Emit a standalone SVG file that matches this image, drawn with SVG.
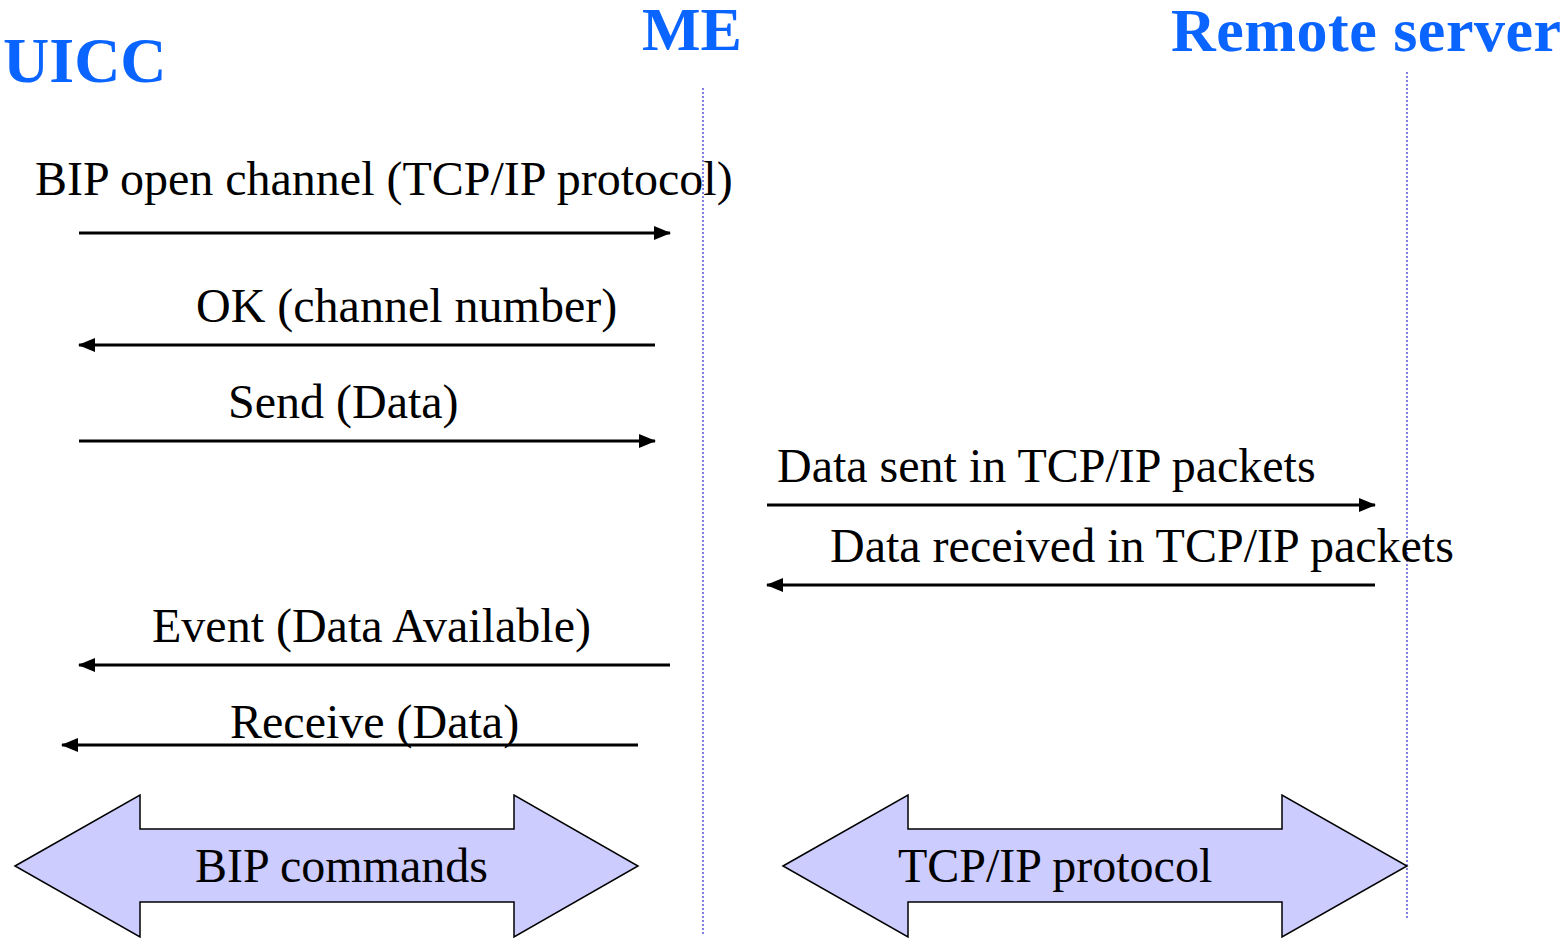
<svg xmlns="http://www.w3.org/2000/svg" width="1568" height="940" viewBox="0 0 1568 940">
<style>
.title{font-family:"Liberation Serif","Times New Roman",serif;font-weight:bold;font-size:64px;fill:#0A64FF}
.lbl{font-family:"Liberation Serif","Times New Roman",serif;font-size:48px;fill:#000}
.life{stroke:#3C3CD2;stroke-width:1.3;stroke-dasharray:2 2;fill:none}
.msg{stroke:#000;stroke-width:3;fill:none;marker-end:url(#ah)}
.block{fill:#CCCCFF;stroke:#000;stroke-width:1.5}
</style>
<defs>
<marker id="ah" markerWidth="17" markerHeight="15" refX="16" refY="7" orient="auto" markerUnits="userSpaceOnUse">
<path d="M0,0 L17,7 L0,14 Z" fill="#000"/>
</marker>
</defs>
<rect width="1568" height="940" fill="#fff"/>
<g id="uicc"><text class="title" x="3" y="82">UICC</text></g>
<g id="me"><text class="title" x="642" y="50" style="font-size:62px">ME</text><line class="life" x1="703" y1="88" x2="703" y2="935"/></g>
<g id="remote"><text class="title" x="1171" y="51" style="font-size:62px" textLength="390">Remote server</text><line class="life" x1="1407" y1="72" x2="1407" y2="918"/></g>
<g id="bip-commands">
<polygon class="block" points="15,866 140,795 140,829 514,829 514,795 638,866 514,937 514,902 140,902 140,937"/>
<text class="lbl" x="195" y="882">BIP commands</text>
</g>
<g id="tcpip-protocol">
<polygon class="block" points="783,866 908,795 908,829 1282,829 1282,795 1407,866 1282,937 1282,902 908,902 908,937"/>
<text class="lbl" x="898" y="882">TCP/IP protocol</text>
</g>
<g id="connectors">
<line class="msg" x1="79" y1="233" x2="670" y2="233"/>
<line class="msg" x1="655" y1="345" x2="79" y2="345"/>
<line class="msg" x1="79" y1="441" x2="655" y2="441"/>
<line class="msg" x1="767" y1="505" x2="1375" y2="505"/>
<line class="msg" x1="1375" y1="585" x2="767" y2="585"/>
<line class="msg" x1="670" y1="665" x2="79" y2="665"/>
<line class="msg" x1="638" y1="745" x2="62" y2="745"/>
</g>
<g id="labels">
<text class="lbl" x="35" y="195">BIP open channel (TCP/IP protocol)</text>
<text class="lbl" x="196" y="322">OK (channel number)</text>
<text class="lbl" x="228" y="418">Send (Data)</text>
<text class="lbl" x="777" y="482">Data sent in TCP/IP packets</text>
<text class="lbl" x="830" y="562">Data received in TCP/IP packets</text>
<text class="lbl" x="152" y="642">Event (Data Available)</text>
<text class="lbl" x="230" y="738">Receive (Data)</text>
</g>
</svg>
